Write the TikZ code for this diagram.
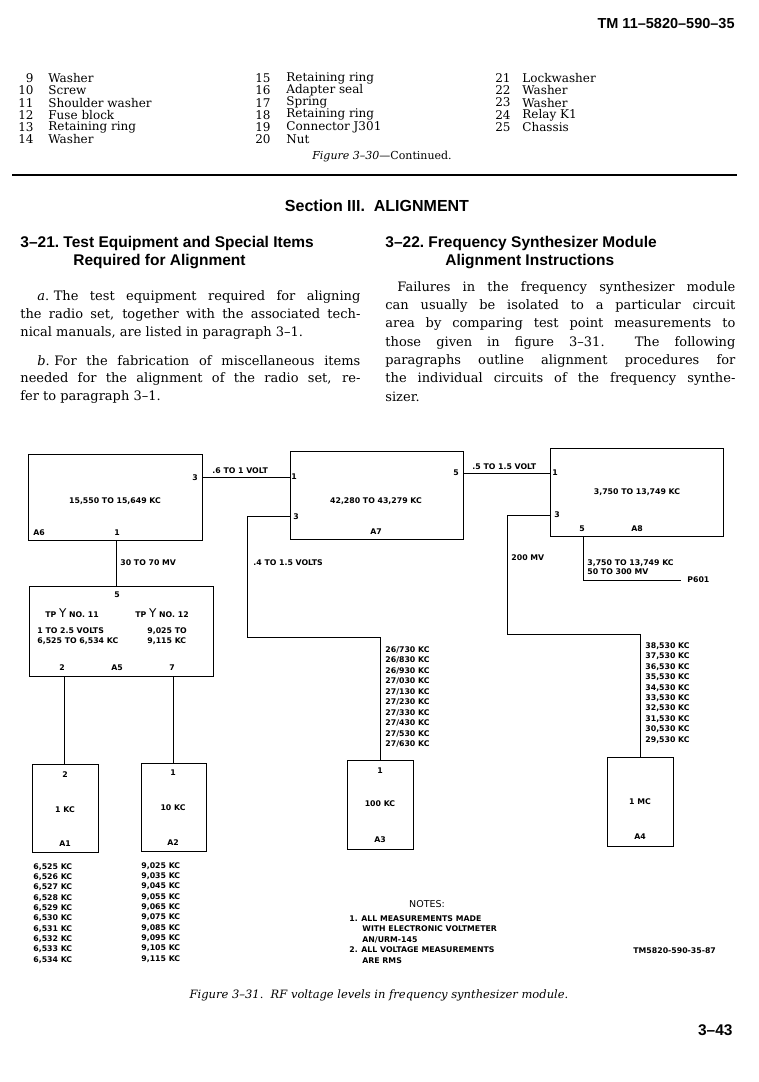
\documentclass[tikz,border=0pt]{standalone}
\usepackage{fontspec}
\setmainfont{DejaVu Serif}
\newfontfamily\headfont[Ligatures=TeX]{Liberation Sans}
\newfontfamily\diagfont{DejaVu Sans}
\usetikzlibrary{positioning,calc}

\begin{document}
\begin{tikzpicture}[
  x=1pt,y=-1pt,
  line width=0.8pt,
  every node/.style={inner sep=0pt},
  body/.style={font=\fontsize{13}{15}\selectfont,anchor=west},
  item/.style={font=\fontsize{12}{14}\selectfont,anchor=west},
  head/.style={font=\headfont\bfseries\fontsize{15.5}{17}\selectfont,anchor=west},
  lbl/.style={font=\diagfont\bfseries\fontsize{7.8}{9}\selectfont},
  blk/.style={draw,anchor=north west}
]
\useasboundingbox[fill=white] (0,0) rectangle (758,1082);

% page head
\node[head,anchor=east,font=\headfont\bfseries\fontsize{14.5}{16}\selectfont] (tm) at (735,24) {TM 11--5820--590--35};

% parts list, continued
\foreach \n/\t [count=\i from 0] in {9/Washer,10/Screw,11/Shoulder washer,
    12/Fuse block,13/Retaining ring,14/Washer}{
  \node[item,anchor=east] (pn\n) at (34,78+12.3*\i) {\n};
  \node[item] (pt\n) at (48,78+12.3*\i) {\t};
}
\foreach \n/\t [count=\i from 0] in {15/Retaining ring,16/Adapter seal,17/Spring,
    18/Retaining ring,19/Connector J301,20/Nut}{
  \node[item,anchor=east] (pn\n) at (271,78+12.3*\i) {\n};
  \node[item] (pt\n) at (286,78+12.3*\i) {\t};
}
\foreach \n/\t [count=\i from 0] in {21/Lockwasher,22/Washer,23/Washer,
    24/Relay K1,25/Chassis}{
  \node[item,anchor=east] (pn\n) at (511,78+12.3*\i) {\n};
  \node[item] (pt\n) at (522,78+12.3*\i) {\t};
}
\node[item,anchor=center,font=\fontsize{11}{13}\selectfont] (fig30) at (382,157)
  {\textit{Figure 3--30}---Continued.};
\draw[line width=2pt] (12,175) -- (737,175);

% section heads
\node[head,anchor=center,font=\headfont\bfseries\fontsize{16}{18}\selectfont] (sect) at (377,206) {Section III.\ \ ALIGNMENT};
\node[head] (h321) at (20,243) {3--21.\ Test Equipment and Special Items};
\node[head] (h321b) at (73,262) {Required for Alignment};
\node[head] (h322) at (385,243) {3--22.\ Frequency Synthesizer Module};
\node[head] (h322b) at (445,262) {Alignment Instructions};

% left column
\node[body] (la1) at (37,297) {\makebox[323pt][s]{\textit{a}.\hspace{0.35em}The test equipment required for aligning}};
\node[body] (la2) at (20,315) {\makebox[340pt][s]{the radio set, together with the associated tech-}};
\node[body] (la3) at (20,333) {nical manuals, are listed in paragraph 3--1.};
\node[body] (lb1) at (37,361) {\makebox[323pt][s]{\textit{b}.\hspace{0.35em}For the fabrication of miscellaneous items}};
\node[body] (lb2) at (20,379) {\makebox[340pt][s]{needed for the alignment of the radio set, re-}};
\node[body] (lb3) at (20,397) {fer to paragraph 3--1.};

% right column
\node[body] (r1) at (397,288) {\makebox[338pt][s]{Failures in the frequency synthesizer module}};
\node[body] (r2) at (385,306) {\makebox[350pt][s]{can usually be isolated to a particular circuit}};
\node[body] (r3) at (385,324) {\makebox[350pt][s]{area by comparing test point measurements to}};
\node[body] (r4) at (385,343) {\makebox[350pt][s]{those given in figure 3--31.\ \ The following}};
\node[body] (r5) at (385,361) {\makebox[350pt][s]{paragraphs outline alignment procedures for}};
\node[body] (r6) at (385,379) {\makebox[350pt][s]{the individual circuits of the frequency synthe-}};
\node[body] (r7) at (385,397) {sizer.};

% modules
\node[blk,minimum width=174,minimum height=86] (a6) at (28,454) {};
\node[blk,minimum width=173,minimum height=88] (a7) at (290,451) {};
\node[blk,minimum width=173,minimum height=88] (a8) at (550,448) {};
\node[blk,minimum width=184,minimum height=90] (a5) at (29,586) {};
\node[blk,minimum width=66,minimum height=88] (a1) at (32,764) {};
\node[blk,minimum width=65,minimum height=88] (a2) at (141,763) {};
\node[blk,minimum width=66,minimum height=89] (a3) at (347,760) {};
\node[blk,minimum width=66,minimum height=89] (a4) at (607,757) {};

% pins
\coordinate (a6p3) at (202,477);
\coordinate (a6p1) at (116,540);
\coordinate (a7p3) at (290,516);
\coordinate (a7p5) at (463,473);
\coordinate (a8p3) at (550,515);
\coordinate (a8p5) at (583,536);
\coordinate (a5p2) at (64,676);
\coordinate (a5p7) at (173,676);

% wiring
\draw (a6p3) -- (a7.west |- a6p3);
\draw (a7p5) -- (a8.west |- a7p5);
\draw (a6p1) -- (a6p1 |- a5.north);
\draw (a5p2) -- (a5p2 |- a1.north);
\draw (a5p7) -- (a5p7 |- a2.north);
\draw (a7p3) -- ++(-43,0) |- (a3.north |- 0,637) -- (a3.north);
\draw (a8p3) -- ++(-43,0) |- (a4.north |- 0,634) -- (a4.north);
\node[lbl,anchor=west] (p601) at (687,580) {P601};
\draw (a8p5) |- ([xshift=-6]p601.west);

% A6
\node[lbl] (a6f) at (115,501) {15,550 TO 15,649 KC};
\node[lbl] (a6n3) at (195,478) {3};
\node[lbl] (a6n1) at (117,533) {1};
\node[lbl,anchor=west] (a6id) at (33,533) {A6};
\node[lbl,anchor=west] (v1) at (212,471) {.6 TO 1 VOLT};
\node[lbl,anchor=west] (v2) at (120,563) {30 TO 70 MV};

% A7
\node[lbl] (a7f) at (376,501) {42,280 TO 43,279 KC};
\node[lbl] (a7n1) at (294,477) {1};
\node[lbl] (a7n3) at (296,517) {3};
\node[lbl] (a7n5) at (456,473) {5};
\node[lbl] (a7id) at (376,532) {A7};
\node[lbl,anchor=west] (v3) at (472,467) {.5 TO 1.5 VOLT};
\node[lbl,anchor=west] (v4) at (253,563) {.4 TO 1.5 VOLTS};

% A8
\node[lbl] (a8f) at (637,492) {3,750 TO 13,749 KC};
\node[lbl] (a8n1) at (555,473) {1};
\node[lbl] (a8n3) at (557,515) {3};
\node[lbl] (a8n5) at (582,529) {5};
\node[lbl] (a8id) at (637,529) {A8};
\node[lbl,anchor=west] (v5) at (511,558) {200 MV};
\node[lbl,anchor=west] (v6) at (587,563) {3,750 TO 13,749 KC};
\node[lbl,anchor=west] (v7) at (587,572) {50 TO 300 MV};

% A5
\node[lbl] (a5n5) at (117,595) {5};
\node[lbl,anchor=west] (tp11) at (45,613)
  {TP {\mdseries\fontsize{12}{12}\selectfont Y} NO. 11};
\node[lbl,anchor=west] (tp12) at (135,613)
  {TP {\mdseries\fontsize{12}{12}\selectfont Y} NO. 12};
\node[lbl,anchor=west] (tp11a) at (37,631) {1 TO 2.5 VOLTS};
\node[lbl,anchor=west] (tp11b) at (37,641) {6,525 TO 6,534 KC};
\node[lbl,anchor=west] (tp12a) at (147,631) {9,025 TO};
\node[lbl,anchor=west] (tp12b) at (147,641) {9,115 KC};
\node[lbl] (a5n2) at (62,668) {2};
\node[lbl] (a5id) at (117,668) {A5};
\node[lbl] (a5n7) at (172,668) {7};

% A1 .. A4
\node[lbl] (a1n) at (65,775) {2};
\node[lbl] (a1f) at (65,810) {1 KC};
\node[lbl] (a1id) at (65,844) {A1};
\node[lbl] (a2n) at (173,773) {1};
\node[lbl] (a2f) at (173,808) {10 KC};
\node[lbl] (a2id) at (173,843) {A2};
\node[lbl] (a3n) at (380,771) {1};
\node[lbl] (a3f) at (380,804) {100 KC};
\node[lbl] (a3id) at (380,840) {A3};
\node[lbl] (a4f) at (640,802) {1 MC};
\node[lbl] (a4id) at (640,837) {A4};

% frequency lists
\foreach \f [count=\i from 0] in {525,526,527,528,529,530,531,532,533,534}
  \node[lbl,anchor=west] (l1\i) at (33,867+10.3*\i) {6,\f\ KC};
\foreach \f [count=\i from 0] in {025,035,045,055,065,075,085,095,105,115}
  \node[lbl,anchor=west] (l2\i) at (141,866+10.3*\i) {9,\f\ KC};
\foreach \f [count=\i from 0] in {26/730,26/830,26/930,27/030,27/130,27/230,27/330,27/430,27/530,27/630}
  \node[lbl,anchor=west] (l3\i) at (385,650+10.44*\i) {\f\ KC};
\foreach \f [count=\i from 0] in {38,37,36,35,34,33,32,31,30,29}
  \node[lbl,anchor=west] (l4\i) at (645,646+10.44*\i) {\f,530 KC};

% notes
\node[lbl,font=\diagfont\fontsize{9.5}{11}\selectfont] (notes) at (427,904) {NOTES:};
\node[lbl,anchor=west] (n1) at (349,919) {1. ALL MEASUREMENTS MADE};
\node[lbl,anchor=west] (n1b) at (362,929) {WITH ELECTRONIC VOLTMETER};
\node[lbl,anchor=west] (n1c) at (362,940) {AN/URM-145};
\node[lbl,anchor=west] (n2) at (349,950) {2. ALL VOLTAGE MEASUREMENTS};
\node[lbl,anchor=west] (n2b) at (362,961) {ARE RMS};
\node[lbl,anchor=west] (tmno) at (633,951) {TM5820-590-35-87};

% caption and folio
\node[item,anchor=center,font=\itshape\fontsize{11.5}{13}\selectfont] (cap) at (379,995)
  {Figure 3--31.\ \ RF voltage levels in frequency synthesizer module.};
\node[head,anchor=east] (pg) at (733,1030) {3--43};
\end{tikzpicture}
\end{document}
